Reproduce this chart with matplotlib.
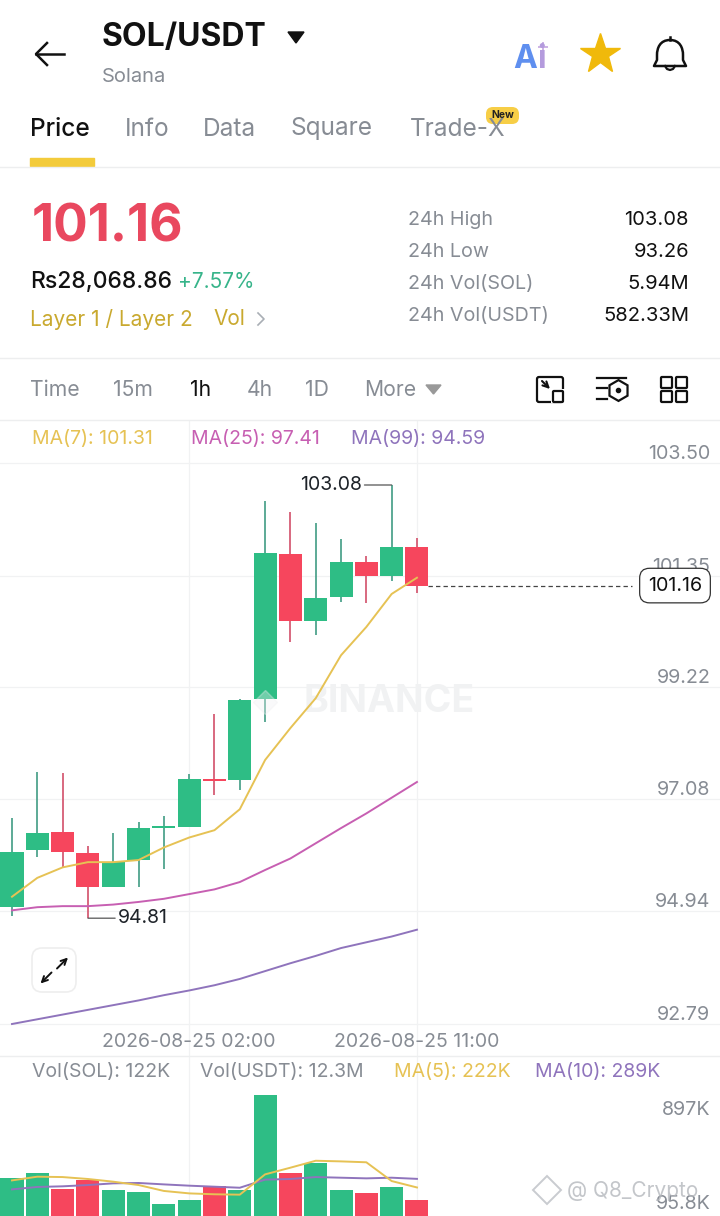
"""SOL/USDT 1h candle screen, rebuilt from the app screenshot."""

import matplotlib
matplotlib.use("Agg")
import matplotlib.pyplot as plt
import numpy as np
from matplotlib.patches import FancyBboxPatch, PathPatch, Polygon
from matplotlib.path import Path

plt.rcParams["font.family"] = ["Inter", "DejaVu Sans"]

# price data, one entry per 1h candle
opens = [95.03, 96.11, 96.45, 96.05, 95.40, 95.92, 96.53, 96.55, 97.47, 97.44, 98.99, 101.76, 100.49, 100.94, 101.61, 101.34, 101.90]
closes = [96.08, 96.44, 96.07, 95.40, 95.89, 96.53, 96.57, 97.46, 97.43, 98.98, 101.78, 100.48, 100.92, 101.61, 101.34, 101.90, 101.16]
highs = [96.72, 97.61, 97.58, 96.19, 96.43, 96.65, 96.76, 97.56, 98.71, 99.00, 102.78, 102.56, 102.36, 102.05, 101.73, 103.08, 102.07]
lows = [94.85, 95.98, 95.79, 94.81, 95.40, 95.41, 95.74, 96.55, 97.17, 97.26, 98.56, 100.09, 100.22, 100.85, 100.82, 101.25, 101.01]
ma7 = [95.22, 95.58, 95.78, 95.88, 95.88, 95.92, 96.16, 96.35, 96.49, 96.89, 97.83, 98.44, 99.01, 99.83, 100.37, 101.00, 101.31]
ma25 = [94.96, 95.02, 95.04, 95.04, 95.07, 95.12, 95.18, 95.27, 95.36, 95.50, 95.73, 95.95, 96.24, 96.53, 96.81, 97.11, 97.41]
ma99 = [92.79, 92.88, 92.97, 93.06, 93.15, 93.24, 93.34, 93.43, 93.53, 93.65, 93.80, 93.95, 94.09, 94.24, 94.35, 94.46, 94.59]

# volume data, in K
volumes = [298, 337, 208, 278, 205, 189, 93, 122, 233, 205, 944, 337, 412, 200, 179, 226, 122]
vol_ma5 = [277, 306, 303, 288, 267, 241, 195, 176, 169, 166, 324, 376, 430, 425, 418, 272, 222]
vol_ma10 = [207, 226, 231, 241, 254, 257, 246, 236, 228, 220, 283, 288, 303, 298, 293, 298, 289]

price_ticks = [103.50, 101.35, 99.22, 97.08, 94.94, 92.79]
vol_ticks = [897, 95.8]
vol_tick_labels = ["897K", "95.8K"]
time_ticks = [7, 16]
time_labels = ["2026-08-25 02:00", "2026-08-25 11:00"]
last_price = 101.16

header_tabs = [("Price", 30), ("Info", 125), ("Data", 203), ("Square", 290), ("Trade-X", 410)]
interval_tabs = [("Time", 30), ("15m", 113), ("1h", 190), ("4h", 247), ("1D", 305), ("More", 364)]
stats = [("24h High", "103.08"), ("24h Low", "93.26"), ("24h Vol(SOL)", "5.94M"), ("24h Vol(USDT)", "582.33M")]

GREEN = "#2EBD85"
RED = "#F6465D"
GREEN_WICK = "#419C84"
RED_WICK = "#D24F69"
YELLOW = "#E6C254"
PINK = "#C75FB2"
PURPLE = "#8F74BC"
GRAY = "#878C94"
GRID = "#F1F2F3"
GOLD = "#C9A92F"

W, H = 720, 1216
STEP = 25.31  # px per candle
X0 = 12  # px of the first candle
TOP, BOTTOM, VOL_BOTTOM = 420, 1056, 1216
PX_PER_UNIT = 52.38
PX_PER_K = 0.1285


def style_pane(ax):
    ax.set_xlim(-X0 / STEP, (W - X0) / STEP)
    ax.set_xticks(time_ticks)
    ax.grid(True, color=GRID, linewidth=0.9)
    ax.set_axisbelow(True)
    ax.tick_params(length=0)
    for spine in ax.spines.values():
        spine.set_visible(False)


def draw_candles(ax):
    idx = np.arange(len(opens))
    o, c = np.array(opens), np.array(closes)
    up = c >= o
    colors = [GREEN if u else RED for u in up]
    wicks = [GREEN_WICK if u else RED_WICK for u in up]
    ax.vlines(idx, lows, highs, colors=wicks, linewidth=1.2, zorder=2)
    ax.bar(idx, np.maximum(np.abs(c - o), 0.035), bottom=np.minimum(o, c), width=0.91, color=colors, zorder=2.2)
    ax.plot(idx, ma99, color=PURPLE, linewidth=1.4, zorder=3)
    ax.plot(idx, ma25, color=PINK, linewidth=1.4, zorder=3)
    ax.plot(idx, ma7, color=YELLOW, linewidth=1.4, zorder=3)


def main():
    fig = plt.figure(figsize=(W / 100, H / 100), dpi=100, facecolor="white")

    # price pane
    ax = fig.add_axes([0, (H - BOTTOM) / H, 1, (BOTTOM - TOP) / H])
    style_pane(ax)
    ax.set_ylim(92.79 - (BOTTOM - 1024) / PX_PER_UNIT, 103.50 + (463 - TOP) / PX_PER_UNIT)
    ax.text(0.54, 0.557, "BINANCE", transform=ax.transAxes, fontsize=27, fontweight="bold",
            color="#F1F2F3", ha="center", va="center", zorder=1)
    draw_candles(ax)

    ax.yaxis.tick_right()
    ax.set_yticks(price_ticks)
    ax.set_yticklabels([f"{t:.2f}" for t in price_ticks])
    ax.tick_params(axis="y", pad=-7, labelsize=14.2, labelcolor=GRAY)
    for tick in ax.yaxis.get_major_ticks():
        tick.label2.set_ha("right")
        tick.label2.set_va("bottom")
    ax.set_xticklabels(time_labels)
    ax.tick_params(axis="x", pad=-16.5, labelsize=14, labelcolor=GRAY)

    # high / low markers
    hi = int(np.argmax(highs))
    lo = int(np.argmin(lows))
    ax.annotate(f"{highs[hi]:.2f}", xy=(hi, highs[hi]), xytext=(-30, 0), textcoords="offset pixels",
                ha="right", va="center", fontsize=14, color="#1E2329",
                arrowprops=dict(arrowstyle="-", color="#555", lw=0.9, shrinkA=0, shrinkB=0))
    ax.annotate(f"{lows[lo]:.2f}", xy=(lo, lows[lo]), xytext=(30, 0), textcoords="offset pixels",
                ha="left", va="center", fontsize=14, color="#1E2329",
                arrowprops=dict(arrowstyle="-", color="#555", lw=0.9, shrinkA=0, shrinkB=0))

    # last price line and tag
    ax.hlines(last_price, len(opens) - 0.55, (632 - X0) / STEP, colors="#444", linewidth=0.9, linestyles=(0, (3.5, 2.5)), zorder=3)
    ax.text((675 - X0) / STEP, last_price, f"{last_price:.2f}", ha="center", va="center", fontsize=14.2, color="#111",
            zorder=4, bbox=dict(boxstyle="round,pad=0.42,rounding_size=0.5", fc="white", ec="#333", lw=0.9))

    # volume pane
    vx = fig.add_axes([0, 0, 1, (VOL_BOTTOM - BOTTOM) / H])
    style_pane(vx)
    vx.set_ylim(0, (VOL_BOTTOM - BOTTOM) / PX_PER_K)
    vcolors = [GREEN if c >= o else RED for o, c in zip(opens, closes)]
    vx.bar(np.arange(len(volumes)), volumes, width=0.91, color=vcolors, zorder=2)
    vx.plot(vol_ma10, color=PURPLE, linewidth=1.4, zorder=3)
    vx.plot(vol_ma5, color=YELLOW, linewidth=1.4, zorder=3)
    vx.yaxis.tick_right()
    vx.set_yticks(vol_ticks)
    vx.set_yticklabels(vol_tick_labels)
    vx.grid(False, axis="y")
    vx.tick_params(axis="y", pad=-7, labelsize=14.2, labelcolor=GRAY)
    vx.tick_params(axis="x", labelbottom=False)
    for tick, va in zip(vx.yaxis.get_major_ticks(), ["top", "center"]):
        tick.label2.set_ha("right")
        tick.label2.set_va(va)

    # app chrome, drawn in screen pixels on top of the panes
    ui = fig.add_axes([0, 0, 1, 1], zorder=5)
    ui.set_xlim(0, W)
    ui.set_ylim(H, 0)
    ui.axis("off")
    ui.patch.set_alpha(0)

    def label(x, y, s, size, color="#111", weight="normal", ha="left", **kw):
        ui.text(x, y, s, fontsize=size, color=color, fontweight=weight, ha=ha, va="center", **kw)

    def rule(y):
        ui.plot([0, W], [y, y], color="#EDEEEF", linewidth=1)

    def box(x, y, w, h, r, **kw):
        ui.add_patch(FancyBboxPatch((x + r, y + r), w - 2 * r, h - 2 * r, boxstyle=f"round,pad={r},rounding_size={r}", **kw))

    # header
    ui.plot([36, 64], [54, 54], color="#111", linewidth=1.8)
    ui.plot([47, 36, 47], [43, 54, 65], color="#111", linewidth=1.8)
    label(102, 38, "SOL/USDT", 23, weight="bold")
    ui.add_patch(Polygon([[288, 32], [304, 32], [296, 43]], color="#111"))
    label(102, 77, "Solana", 14.5, GRAY)
    label(513, 60, "A", 23, "#5F8FEF", weight="bold")
    label(537, 60, "i", 23, "#B49BDD", weight="bold")
    ui.plot(543, 47, marker="+", color="#C3A6E0", markersize=7, mew=1.2)
    ui.plot(600, 54, marker="*", color="#F0B90B", markersize=30, mew=1, mec="#F0B90B")
    bell = Path(
        [(670, 40), (660, 40), (657, 48), (657, 55), (657, 60), (654, 66), (686, 66), (683, 60), (683, 55), (683, 48), (680, 40), (670, 40)],
        [Path.MOVETO, Path.CURVE4, Path.CURVE4, Path.CURVE4, Path.LINETO, Path.LINETO, Path.LINETO, Path.LINETO, Path.LINETO, Path.CURVE4, Path.CURVE4, Path.CURVE4],
    )
    ui.add_patch(PathPatch(bell, fc="none", ec="#111", lw=1.8, joinstyle="round"))
    ui.plot([665, 667, 670, 673, 675], [66, 69, 70, 69, 66], color="#111", linewidth=1.6)
    ui.plot([670, 670], [37, 40], color="#111", linewidth=1.8)

    for i, (name, x) in enumerate(header_tabs):
        label(x, 129, name, 17.6, "#111" if i == 0 else GRAY, weight="medium" if i == 0 else "normal")
    box(486, 107, 33, 17, 7, fc="#F7CE46", ec="none")
    label(502.5, 115.5, "New", 7.5, "#222", weight="bold", ha="center")
    ui.add_patch(plt.Rectangle((30, 158), 64, 8, color="#F3CB3B"))
    rule(166.5)

    # quote block
    label(32, 228, "101.16", 37, "#E9485F", weight="bold")
    label(30, 282, "Rs28,068.86", 16.5, "#111", weight="medium")
    label(178, 282, "+7.57%", 15, "#37B48A")
    label(30, 319, "Layer 1 / Layer 2", 15, GOLD)
    label(213, 319, "Vol", 15, GOLD)
    ui.plot([258, 264, 258], [313, 319, 325], color="#A9AEB5", linewidth=1.2)
    for (name, value), y in zip(stats, [220, 252, 284, 316]):
        label(408, y, name, 14.2, GRAY)
        label(689, y, value, 14.5, "#111", ha="right")
    rule(358)

    # interval bar
    for name, x in interval_tabs:
        label(x, 390, name, 15.2, "#111" if name == "1h" else GRAY)
    ui.add_patch(Polygon([[426, 385], [441, 385], [433.5, 394]], color="#999"))

    box(537, 377, 26, 25, 2, fc="none", ec="#111", lw=1.6)
    ui.add_patch(plt.Rectangle((551, 389), 14, 14, fc="white", ec="none"))
    box(553, 391, 10, 11, 1, fc="none", ec="#111", lw=1.6)
    ui.annotate("", xy=(550, 389), xytext=(542, 381), arrowprops=dict(arrowstyle="->", color="#111", lw=1.5, shrinkA=0, shrinkB=0))
    ui.plot([597, 626], [378, 378], color="#111", linewidth=1.6)
    ui.plot([597, 607], [388, 388], color="#111", linewidth=1.6)
    ui.plot([597, 607], [399, 399], color="#111", linewidth=1.6)
    ui.plot(618, 390, marker="h", mfc="white", mec="#111", markersize=15, mew=1.6)
    ui.plot(618, 390, marker="o", color="#111", markersize=3)
    for bx, by in [(661, 377), (676, 377), (661, 391), (676, 391)]:
        box(bx, by, 11, 11, 1, fc="none", ec="#111", lw=1.6)
    rule(420)

    # indicator readouts
    label(32, 439, "MA(7): 101.31", 14, YELLOW)
    label(191, 439, "MA(25): 97.41", 14, PINK)
    label(351, 439, "MA(99): 94.59", 14, PURPLE)
    rule(1056)
    label(32, 1072, "Vol(SOL): 122K", 14, GRAY)
    label(200, 1072, "Vol(USDT): 12.3M", 14, GRAY)
    label(394, 1072, "MA(5): 222K", 14, YELLOW)
    label(535, 1072, "MA(10): 289K", 14, PURPLE)

    # expand button
    box(32, 948, 44, 44, 10, fc="white", ec="#EEEEEE", lw=1.2)
    ui.annotate("", xy=(40.5, 983.5), xytext=(51.5, 972.5), arrowprops=dict(arrowstyle="->", color="#111", lw=1.4, shrinkA=0, shrinkB=0))
    ui.annotate("", xy=(68, 957.5), xytext=(57, 968.5), arrowprops=dict(arrowstyle="->", color="#111", lw=1.4, shrinkA=0, shrinkB=0))

    # watermarks
    ui.plot(547, 1190, marker="D", mfc="none", mec="#C9CCD0", markersize=14, mew=1.4)
    label(567, 1191, "@ Q8_Crypto", 15, "#B5B8BD", alpha=0.8)
    ui.plot(265, 702, marker="D", color="#EEF0F1", markersize=12, alpha=0.35)

    fig.savefig("out.png", dpi=100)


if __name__ == "__main__":
    main()
